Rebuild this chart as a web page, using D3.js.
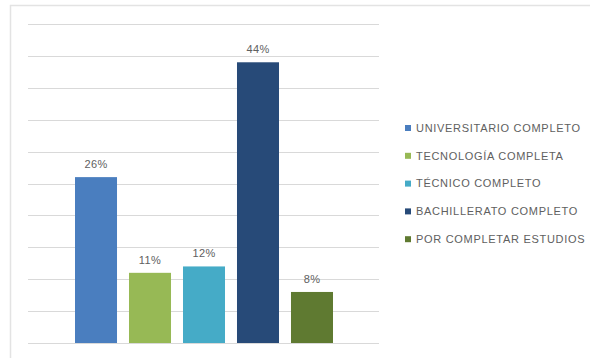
<!DOCTYPE html>
<html>
<head>
<meta charset="utf-8">
<script src="https://cdn.jsdelivr.net/npm/d3@7"></script>
<style>
  html, body { margin: 0; padding: 0; background: #ffffff; }
  svg { display: block; }
</style>
</head>
<body>
<svg id="chart" width="590" height="358"></svg>
<script>
// Education level shares (one category, five series)
const series = [
  "UNIVERSITARIO COMPLETO",
  "TECNOLOGÍA COMPLETA",
  "TÉCNICO COMPLETO",
  "BACHILLERATO COMPLETO",
  "POR COMPLETAR ESTUDIOS"
];
const values = [0.26, 0.11, 0.12, 0.44, 0.08];
const colors = ["#4a7ebf", "#97b955", "#45abc7", "#274a78", "#5f7a31"];
const yTicks = [0, 0.05, 0.10, 0.15, 0.20, 0.25, 0.30, 0.35, 0.40, 0.45, 0.50];

const svg = d3.select("#chart");
const textColor = "#606060";
const font = "'Liberation Sans', Arial, sans-serif";

// chart frame (top and left edges)
svg.append("path")
  .attr("d", "M10.5,358 V5.5 H590")
  .attr("fill", "none")
  .attr("stroke", "#e3e3e3")
  .attr("stroke-width", 1.5);

const plot = { left: 28, right: 379, top: 24, bottom: 343 };

const y = d3.scaleLinear().domain([0, 0.5]).range([plot.bottom, plot.top]);
const x = d3.scaleBand()
  .domain(series)
  .range([75, 333])
  .paddingInner(0.222)
  .paddingOuter(0);

// horizontal gridlines
svg.append("g")
  .selectAll("line")
  .data(yTicks)
  .join("line")
  .attr("x1", plot.left)
  .attr("x2", plot.right)
  .attr("y1", d => Math.round(y(d)) + 0.5)
  .attr("y2", d => Math.round(y(d)) + 0.5)
  .attr("stroke", "#d9d9d9")
  .attr("stroke-width", 1.2);

// bars
svg.append("g")
  .selectAll("rect")
  .data(series)
  .join("rect")
  .attr("x", d => x(d))
  .attr("width", x.bandwidth())
  .attr("y", (d, i) => y(values[i]))
  .attr("height", (d, i) => y(0) - y(values[i]))
  .attr("fill", (d, i) => colors[i]);

// value labels
svg.append("g")
  .selectAll("text")
  .data(series)
  .join("text")
  .attr("x", d => x(d) + x.bandwidth() / 2)
  .attr("y", (d, i) => y(values[i]) - 9)
  .attr("text-anchor", "middle")
  .attr("font-family", font)
  .attr("font-size", 11)
  .attr("letter-spacing", 0.4)
  .attr("fill", textColor)
  .text((d, i) => Math.round(values[i] * 100) + "%");

// legend
const legend = svg.append("g")
  .selectAll("g")
  .data(series)
  .join("g")
  .attr("transform", (d, i) => `translate(405, ${128 + i * 27.8})`);

legend.append("rect")
  .attr("x", 0)
  .attr("y", -3)
  .attr("width", 6)
  .attr("height", 6)
  .attr("fill", (d, i) => colors[i]);

legend.append("text")
  .attr("x", 11)
  .attr("y", 0)
  .attr("dy", "0.35em")
  .attr("font-family", font)
  .attr("font-size", 11)
  .attr("letter-spacing", 0.7)
  .attr("fill", textColor)
  .text(d => d);
</script>
</body>
</html>
